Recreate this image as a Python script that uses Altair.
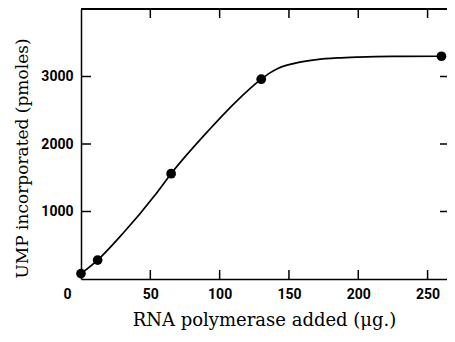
import altair as alt
import pandas as pd

# measured points
dose = [0, 12, 65, 130, 260]
ump = [80, 280, 1560, 2960, 3300]

# hand-drawn smooth curve
curve_x = [0, 12, 30, 54, 65, 92, 111, 130, 136, 142, 148, 154, 160, 170, 185, 200, 225, 260]
curve_y = [80, 280, 670, 1260, 1560, 2200, 2610, 2960, 3050, 3120, 3165, 3195, 3220, 3250, 3275, 3288, 3298, 3300]

x_ticks = [0, 50, 100, 150, 200, 250]
x_inner_ticks = [50, 100, 150, 200, 250]
y_ticks = [1000, 2000, 3000]

W, H = 366, 270
xscale = alt.Scale(domain=[0, 264], nice=False, zero=False)
yscale = alt.Scale(domain=[0, 4000], nice=False)

pts = pd.DataFrame({"x": dose, "y": ump})
cur = pd.DataFrame({"x": curve_x, "y": curve_y})
xt = pd.DataFrame({"x": x_inner_ticks})
yt = pd.DataFrame({"y": y_ticks})

line = alt.Chart(cur).mark_line(interpolate="monotone", color="black", strokeWidth=1.7).encode(
    x=alt.X("x:Q", scale=xscale,
            axis=alt.Axis(values=x_ticks, format="d", title="RNA polymerase added (\u03bcg.)",
                          labelOffset={"condition": {"test": "datum.value == 0", "value": -18}, "value": 0},
                          labelPadding=8, titleY=46, titleBaseline="alphabetic", titleFontSize=18)),
    y=alt.Y("y:Q", scale=yscale,
            axis=alt.Axis(values=y_ticks, format="d", title="UMP incorporated (pmoles)",
                          labelPadding=8, titleX=-54, titleY=149, titleAngle=270,
                          titleAlign="center", titleBaseline="alphabetic")),
)

dots = alt.Chart(pts).mark_circle(color="black", opacity=1, size=95).encode(
    x=alt.X("x:Q", scale=xscale),
    y=alt.Y("y:Q", scale=yscale),
)

top_line = alt.Chart(xt).mark_rule(color="black", strokeWidth=1.5).encode(
    x=alt.value(0), x2=alt.value(W + 10), y=alt.value(0))
bt = alt.Chart(xt).mark_rule(color="black", strokeWidth=1.5).encode(
    x=alt.X("x:Q", scale=xscale), y=alt.value(H), y2=alt.value(H - 9))
tt = alt.Chart(xt).mark_rule(color="black", strokeWidth=1.5).encode(
    x=alt.X("x:Q", scale=xscale), y=alt.value(0), y2=alt.value(9))
lt = alt.Chart(yt).mark_rule(color="black", strokeWidth=1.5).encode(
    y=alt.Y("y:Q", scale=yscale), x=alt.value(0), x2=alt.value(10))
rt = alt.Chart(yt).mark_rule(color="black", strokeWidth=1.5).encode(
    y=alt.Y("y:Q", scale=yscale), x=alt.value(W - 7), x2=alt.value(W))

chart = alt.layer(line, dots, top_line, bt, tt, lt, rt).properties(
    width=W, height=H,
    autosize=alt.AutoSizeParams(type="none"),
    padding={"left": 73, "top": 1, "right": 0, "bottom": 51},
    background="white",
).configure_view(
    stroke=None
).configure_axis(
    domain=True, domainColor="black", domainWidth=1.5,
    ticks=False, grid=False,
    labelFont="Roboto", labelFontWeight="bold", labelFontSize=14,
    labelColor="black",
    titleFont="DejaVu Serif", titleFontWeight="normal", titleFontSize=17,
    titleColor="black",
)

chart.save("out.html", embed_options={"renderer": "svg", "actions": False})
